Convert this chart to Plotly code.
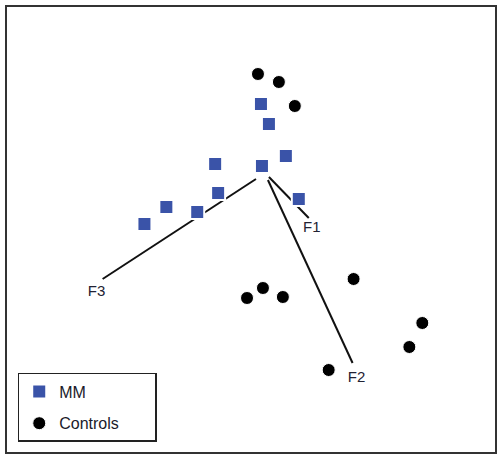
import plotly.graph_objects as go

# MM group scores (plot units)
mm_x = [262, 270, 287, 263, 216, 219, 300, 198, 167, 145]
mm_y = [104, 124, 156, 166, 164, 193, 199, 212, 207, 224]

# Control group scores
ctrl_x = [259, 280, 296, 355, 264, 248, 284, 424, 411, 330]
ctrl_y = [74, 82, 106, 279, 288, 298, 297, 323, 347, 370]

# Loading vectors (origin -> tip) and labels
vec_names = ["F1", "F2", "F3"]
vec_origin_x = [270, 269, 257]
vec_origin_y = [177, 180, 179]
vec_tip_x = [310, 354, 103]
vec_tip_y = [218, 363, 279]
label_x = [313, 358, 97]
label_y = [228, 378, 292]

fig = go.Figure()

for i in range(len(vec_names)):
    fig.add_trace(go.Scatter(
        x=[vec_origin_x[i], vec_tip_x[i]], y=[vec_origin_y[i], vec_tip_y[i]],
        mode="lines", line=dict(color="#111111", width=2),
        showlegend=False, hoverinfo="skip"))

fig.add_trace(go.Scatter(
    x=label_x, y=label_y, text=vec_names, mode="text",
    textfont=dict(family="Liberation Sans, Arial", size=15, color="#222233"),
    showlegend=False, hoverinfo="skip"))

fig.add_trace(go.Scatter(
    x=mm_x, y=mm_y, mode="markers", name="MM", legendgroup="a",
    marker=dict(symbol="square", size=14, color="#3a53a8",
                line=dict(color="white", width=2))))

fig.add_trace(go.Scatter(
    x=ctrl_x, y=ctrl_y, mode="markers",
    name="Controls" + "\u00a0" * 7, legendgroup="b",
    marker=dict(symbol="circle", size=13, color="#000000",
                line=dict(color="white", width=1))))

fig.update_layout(
    width=500, height=455,
    margin=dict(l=7, r=3, t=7, b=3),
    paper_bgcolor="white", plot_bgcolor="white",
    font=dict(family="Liberation Sans, Arial", color="#1a1a2a"),
    xaxis=dict(range=[7, 497], showgrid=False, zeroline=False, showticklabels=False,
               ticks="", showline=True, mirror=True, linecolor="#333333", linewidth=2),
    yaxis=dict(range=[452, 7], showgrid=False, zeroline=False, showticklabels=False,
               ticks="", showline=True, mirror=True, linecolor="#333333", linewidth=2),
    legend=dict(x=0.022, y=0.0225, xanchor="left", yanchor="bottom",
                bordercolor="#222222", borderwidth=1.5, bgcolor="white",
                font=dict(size=16), traceorder="grouped", tracegroupgap=8,
                itemwidth=30),
    showlegend=True,
)

fig.write_html("out.html", config={"displayModeBar": False},
               post_script="document.body.style.margin='0';")
